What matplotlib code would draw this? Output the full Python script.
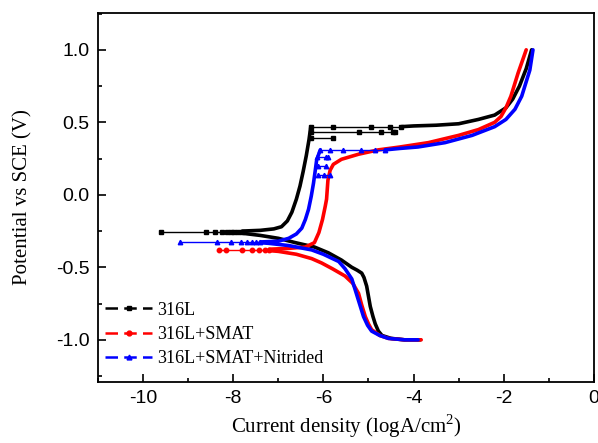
import numpy as np
import matplotlib
matplotlib.use('Agg')
import matplotlib.pyplot as plt
from matplotlib.lines import Line2D
from matplotlib.ticker import MultipleLocator

plt.rcParams['mathtext.fontset'] = 'custom'
plt.rcParams['mathtext.rm'] = 'Liberation Serif'

# 316L  (cathodic branch, sparse points near Ecorr, anodic branch, passive spikes)
b_cat_x = [-3.85, -4.2, -4.5, -4.7, -4.78, -4.85, -4.9, -4.96, -5.0, -5.04, -5.1, -5.15, -5.25, -5.37, -5.6, -5.89, -6.2, -6.62, -7.0, -7.4, -7.8]
b_cat_y = [-1.0, -1.0, -0.99, -0.97, -0.94, -0.89, -0.84, -0.77, -0.70, -0.63, -0.57, -0.54, -0.52, -0.50, -0.45, -0.40, -0.36, -0.33, -0.30, -0.28, -0.265]
b_ec_x = [-9.6, -8.6, -8.4, -8.25, -8.14, -8.05, -7.98, -7.9, -7.8]
b_ec_y = [-0.255, -0.255, -0.255, -0.255, -0.255, -0.255, -0.255, -0.255, -0.255]
b_an_x = [-7.8, -7.4, -7.1, -6.93, -6.8, -6.7, -6.6, -6.52, -6.45, -6.38, -6.32, -6.28]
b_an_y = [-0.25, -0.245, -0.235, -0.22, -0.18, -0.12, -0.03, 0.06, 0.16, 0.27, 0.38, 0.47]
b_pas_x = [-6.28, -5.78, -4.94, -4.52, -4.27]
b_pas_y = [0.47, 0.47, 0.47, 0.47, 0.47]
b_tr_x = [-4.27, -4.0, -3.5, -3.0, -2.56, -2.2, -1.95, -1.8, -1.65, -1.5, -1.38]
b_tr_y = [0.47, 0.475, 0.48, 0.49, 0.52, 0.55, 0.60, 0.66, 0.75, 0.87, 1.0]
b_sp1_x = [-6.28, -5.22, -4.73, -4.45, -4.41]
b_sp1_y = [0.43, 0.43, 0.43, 0.43, 0.43]
b_sp2_x = [-6.28, -5.78]
b_sp2_y = [0.39, 0.39]

# 316L+SMAT
r_cat_x = [-3.83, -4.2, -4.56, -4.75, -4.93, -5.0, -5.07, -5.15, -5.22, -5.35, -5.52, -5.8, -6.04, -6.26, -6.6, -7.0, -7.2]
r_cat_y = [-1.0, -1.0, -0.99, -0.97, -0.93, -0.89, -0.84, -0.76, -0.68, -0.61, -0.56, -0.51, -0.47, -0.44, -0.41, -0.39, -0.385]
r_ec_x = [-8.32, -8.17, -7.81, -7.59, -7.43, -7.3, -7.2]
r_ec_y = [-0.38, -0.38, -0.38, -0.38, -0.38, -0.38, -0.38]
r_an_x = [-7.2, -6.8, -6.4, -6.2, -6.1, -6.02, -5.96, -5.93, -5.9, -5.85, -5.78, -5.6, -5.22, -4.78, -4.3, -3.67, -3.0, -2.56, -2.2, -2.06, -1.95, -1.84, -1.68, -1.5]
r_an_y = [-0.375, -0.37, -0.36, -0.33, -0.26, -0.17, -0.08, -0.03, 0.10, 0.17, 0.21, 0.245, 0.28, 0.31, 0.33, 0.36, 0.41, 0.45, 0.50, 0.54, 0.60, 0.68, 0.84, 1.0]

# 316L+SMAT+Nitrided
n_cat_x = [-3.9, -4.2, -4.56, -4.75, -4.93, -5.02, -5.11, -5.2, -5.27, -5.37, -5.52, -5.66, -6.0, -6.26, -6.77, -7.2, -7.4]
n_cat_y = [-1.0, -1.0, -0.99, -0.97, -0.94, -0.90, -0.84, -0.75, -0.68, -0.58, -0.51, -0.46, -0.41, -0.38, -0.35, -0.335, -0.33]
n_ec_x = [-9.19, -8.37, -8.06, -7.83, -7.7, -7.59, -7.5, -7.4]
n_ec_y = [-0.325, -0.325, -0.325, -0.325, -0.325, -0.325, -0.325, -0.325]
n_an_x = [-7.4, -7.0, -6.77, -6.6, -6.48, -6.4, -6.33, -6.27, -6.22, -6.18, -6.15, -6.07]
n_an_y = [-0.325, -0.32, -0.30, -0.27, -0.23, -0.17, -0.10, -0.01, 0.08, 0.17, 0.24, 0.31]
n_pas_x = [-6.07, -5.85, -5.56, -5.16, -4.85, -4.63]
n_pas_y = [0.31, 0.31, 0.31, 0.31, 0.31, 0.31]
n_tr_x = [-4.63, -4.3, -3.9, -3.3, -2.7, -2.2, -1.95, -1.75, -1.6, -1.53, -1.42, -1.35]
n_tr_y = [0.31, 0.32, 0.33, 0.36, 0.41, 0.47, 0.52, 0.59, 0.68, 0.75, 0.86, 1.0]
n_sp1_x = [-6.15, -5.95, -5.9]
n_sp1_y = [0.26, 0.26, 0.26]
n_sp2_x = [-6.12, -5.95]
n_sp2_y = [0.2, 0.2]
n_sp3_x = [-6.12, -5.98, -5.85]
n_sp3_y = [0.14, 0.14, 0.14]

labels = ['316L', '316L+SMAT', '316L+SMAT+Nitrided']
colors = ['black', '#ff0000', '#0000ff']
marks = ['s', 'o', '^']

fig = plt.figure(figsize=(5.98, 4.43), dpi=100)
ax = fig.add_axes([0.164, 0.138, 0.829, 0.833])

thick = 2.6
thin = 1.0
ms = 3.2

def draw(xs, ys, c, m, dense):
    if dense:
        ax.plot(xs, ys, '-', color=c, lw=thick, solid_capstyle='round')
    else:
        ax.plot(xs, ys, '-', color=c, lw=thin, marker=m, ms=ms, mec=c, mfc=c)

# black
draw(b_cat_x, b_cat_y, colors[0], marks[0], True)
draw(b_ec_x, b_ec_y, colors[0], marks[0], False)
draw(b_an_x, b_an_y, colors[0], marks[0], True)
draw(b_pas_x, b_pas_y, colors[0], marks[0], False)
draw(b_tr_x, b_tr_y, colors[0], marks[0], True)
draw(b_sp1_x, b_sp1_y, colors[0], marks[0], False)
draw(b_sp2_x, b_sp2_y, colors[0], marks[0], False)

# red
draw(r_cat_x, r_cat_y, colors[1], marks[1], True)
draw(r_ec_x, r_ec_y, colors[1], marks[1], False)
draw(r_an_x, r_an_y, colors[1], marks[1], True)

# blue
draw(n_cat_x, n_cat_y, colors[2], marks[2], True)
draw(n_ec_x, n_ec_y, colors[2], marks[2], False)
draw(n_an_x, n_an_y, colors[2], marks[2], True)
draw(n_pas_x, n_pas_y, colors[2], marks[2], False)
draw(n_tr_x, n_tr_y, colors[2], marks[2], True)
draw(n_sp1_x, n_sp1_y, colors[2], marks[2], False)
draw(n_sp2_x, n_sp2_y, colors[2], marks[2], False)
draw(n_sp3_x, n_sp3_y, colors[2], marks[2], False)

ax.set_xlim(-11, 0)
ax.set_ylim(-1.29, 1.255)
ax.xaxis.set_minor_locator(MultipleLocator(1))
ax.yaxis.set_minor_locator(MultipleLocator(0.25))
ax.tick_params(which='both', direction='in', top=False, right=False, width=1.2)
ax.tick_params(which='major', length=6, labelsize=14, pad=6)
ax.tick_params(which='minor', length=3)
for s in ax.spines.values():
    s.set_linewidth(1.3)
ax.set_yticks([-1.0, -0.5, 0.0, 0.5, 1.0])
ax.set_yticklabels(['-1.0', '-0.5', '0.0', '0.5', '1.0'], fontfamily='Liberation Sans')
ax.set_xticks([-10, -8, -6, -4, -2, 0])
ax.set_xticklabels(['-10', '-8', '-6', '-4', '-2', '0'], fontfamily='Liberation Sans')

ax.set_xlabel('Current density (logA/cm$^2$)', fontfamily='Liberation Serif', fontsize=15, labelpad=4)
ax.set_ylabel('Potential vs SCE (V)', fontfamily='Liberation Serif', fontsize=15, labelpad=17)

handles = [Line2D([], [], color=c, lw=1.8, dashes=(5, 2.5), marker=m, ms=3.5) for c, m in zip(colors, marks)]
ax.legend(handles, labels, loc='lower left', bbox_to_anchor=(0.0, 0.02), frameon=False,
          prop={'family': 'Liberation Serif', 'size': 13}, handlelength=2.6, handletextpad=0.25,
          labelspacing=0.4, borderaxespad=0.2, borderpad=0.2, numpoints=1)

fig.savefig('out.png', dpi=100)
